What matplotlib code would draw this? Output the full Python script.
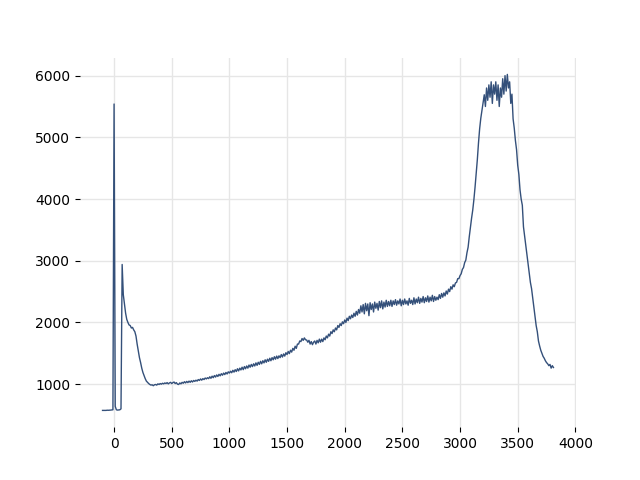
import numpy as np
import matplotlib
matplotlib.use("Agg")
import matplotlib.pyplot as plt

# x samples every 10 units from -100 to 3810
x_start = -100
x_step = 10

signal = [
    # -100 .. -10
    575, 575, 576, 575, 578, 577, 578, 580, 582, 585,
    # 0 .. 90
    5540, 640, 585, 580, 582, 585, 600, 2940, 2450, 2300,
    # 100 .. 190
    2150, 2050, 2000, 1960, 1950, 1910, 1920, 1880, 1850, 1780,
    # 200 .. 290
    1650, 1540, 1430, 1350, 1260, 1190, 1140, 1090, 1050, 1030,
    # 300 .. 390
    1010, 995, 985, 990, 975, 990, 995, 985, 1005, 995,
    # 400 .. 590
    1010, 1000, 1015, 1005, 1020, 1010, 1025, 1005, 1020, 1030,
    1010, 1025, 1035, 1010, 1025, 1000, 995, 1020, 1005, 1030,
    # 600 .. 790
    1015, 1040, 1020, 1045, 1025, 1050, 1030, 1055, 1035, 1060,
    1045, 1065, 1050, 1075, 1060, 1085, 1065, 1090, 1075, 1100,
    # 800 .. 990
    1085, 1105, 1090, 1120, 1095, 1130, 1105, 1140, 1115, 1150,
    1125, 1160, 1135, 1170, 1145, 1180, 1155, 1190, 1165, 1200,
    # 1000 .. 1190
    1180, 1210, 1185, 1225, 1195, 1235, 1205, 1250, 1215, 1260,
    1230, 1275, 1235, 1285, 1250, 1295, 1260, 1310, 1275, 1320,
    # 1200 .. 1390
    1285, 1330, 1295, 1345, 1305, 1355, 1320, 1370, 1330, 1380,
    1345, 1395, 1355, 1405, 1370, 1420, 1380, 1430, 1395, 1445,
    # 1400 .. 1490
    1405, 1455, 1415, 1460, 1430, 1480, 1440, 1490, 1455, 1510,
    # 1500 .. 1690
    1480, 1530, 1495, 1550, 1520, 1580, 1550, 1615, 1580, 1650,
    1650, 1700, 1690, 1740, 1710, 1750, 1720, 1715, 1680, 1710,
    # 1700 .. 1890
    1650, 1690, 1640, 1680, 1700, 1650, 1710, 1670, 1730, 1680,
    1730, 1690, 1750, 1720, 1780, 1750, 1810, 1780, 1850, 1820,
    # 1900 .. 2090
    1880, 1850, 1910, 1880, 1950, 1920, 1980, 1950, 2010, 1980,
    2040, 2000, 2070, 2030, 2100, 2060, 2120, 2080, 2150, 2100,
    # 2100 .. 2290
    2180, 2120, 2210, 2150, 2270, 2170, 2290, 2140, 2310, 2190,
    2300, 2110, 2320, 2210, 2300, 2170, 2330, 2230, 2310, 2200,
    # 2300 .. 2490
    2340, 2240, 2350, 2220, 2330, 2250, 2360, 2260, 2340, 2270,
    2360, 2260, 2350, 2290, 2370, 2280, 2350, 2300, 2380, 2270,
    # 2500 .. 2690
    2360, 2290, 2380, 2300, 2350, 2280, 2390, 2310, 2360, 2290,
    2400, 2300, 2380, 2320, 2410, 2310, 2390, 2330, 2420, 2320,
    # 2700 .. 2890
    2400, 2340, 2430, 2330, 2410, 2350, 2440, 2340, 2420, 2360,
    2410, 2370, 2450, 2390, 2470, 2410, 2480, 2430, 2510, 2460,
    # 2900 .. 3090
    2540, 2500, 2580, 2540, 2610, 2580, 2640, 2650, 2710, 2710,
    2760, 2790, 2860, 2890, 2970, 3010, 3130, 3220, 3390, 3540,
    # 3100 .. 3290
    3690, 3820, 3990, 4190, 4410, 4640, 4910, 5140, 5310, 5440,
    5560, 5690, 5500, 5800, 5600, 5850, 5650, 5900, 5550, 5850,
    # 3300 .. 3490
    5700, 5900, 5600, 5850, 5500, 5800, 5650, 5950, 5700, 6000,
    5750, 6020, 5800, 5900, 5550, 5700, 5300, 5150, 4950, 4800,
    # 3500 .. 3690
    4550, 4400, 4150, 4000, 3900, 3550, 3400, 3250, 3100, 2950,
    2800, 2650, 2550, 2400, 2250, 2100, 1950, 1850, 1700, 1620,
    # 3700 .. 3810
    1550, 1500, 1450, 1420, 1380, 1350, 1330, 1300, 1320, 1260,
    1300, 1270,
]

x = x_start + x_step * np.arange(len(signal))

fig, ax = plt.subplots(figsize=(6.4, 4.8), dpi=100)
ax.plot(x, signal, color="#34507a", linewidth=1)

ax.grid(True, color="#e6e6e6", linewidth=1)
ax.set_axisbelow(True)
for spine in ax.spines.values():
    spine.set_visible(False)

fig.savefig("out.png", dpi=100)
